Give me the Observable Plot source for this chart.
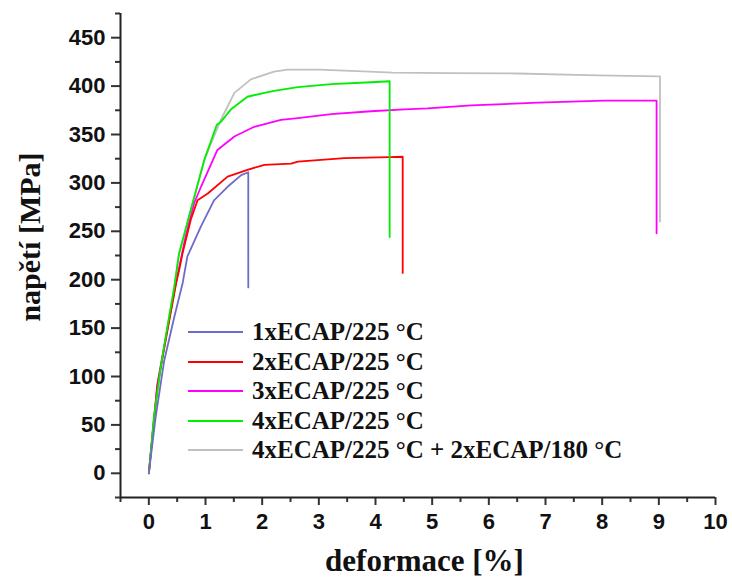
<!DOCTYPE html>
<html>
<head>
<meta charset="utf-8">
<script src="https://cdn.jsdelivr.net/npm/d3@7"></script>
<script src="https://cdn.jsdelivr.net/npm/@observablehq/plot@0.6"></script>
<style>
  html, body { margin: 0; padding: 0; background: #fff; }
  #wrap { position: relative; width: 732px; height: 579px; }
  #legend { position: absolute; left: 0; top: 0; }
  .row { position: absolute; left: 188px; height: 30px; display: flex; align-items: center; white-space: nowrap; }
  .sw { width: 55px; height: 2px; margin-right: 9px; }
  .lab { font-family: "Liberation Serif", "Times New Roman", serif; font-weight: bold; font-size: 25px; line-height: 30px; color: #111; }
</style>
</head>
<body>
<div id="wrap"><div id="legend"></div></div>
<script>
// Series names and colours
const seriesNames = ["1xECAP/225 °C", "2xECAP/225 °C", "3xECAP/225 °C", "4xECAP/225 °C", "4xECAP/225 °C + 2xECAP/180 °C"];
const seriesColors = ["#6c6cc8", "#ff0000", "#ff00ff", "#00ee00", "#c0c0c0"];

// 1xECAP/225 °C
const strain1 = [0, 0.12, 0.27, 0.447, 0.595, 0.68, 0.92, 1.15, 1.39, 1.63, 1.755, 1.755];
const stress1 = [0, 58, 116, 161, 196, 224, 255, 282, 296, 308, 311, 192];
// 2xECAP/225 °C
const strain2 = [0, 0.15, 0.33, 0.48, 0.535, 0.594, 0.74, 0.86, 1.04, 1.39, 1.74, 2.04, 2.51, 2.63, 3.45, 4.25, 4.48, 4.48];
const stress2 = [0, 90, 148, 196, 210, 227, 262, 282, 289, 306.5, 313.5, 318.7, 320, 322, 325.6, 326.6, 327, 207];
// 3xECAP/225 °C
const strain3 = [0, 0.15, 0.33, 0.5, 0.65, 0.8, 0.92, 1.21, 1.51, 1.86, 2.33, 2.63, 3.22, 3.92, 4.51, 4.92, 5.69, 6.87, 8.04, 8.96, 8.96];
const stress3 = [0, 92, 150, 203, 245, 279, 296, 334, 348, 358, 365, 367, 371, 374, 376, 377, 380, 383, 385, 385, 248];
// 4xECAP/225 °C
const strain4 = [0, 0.09, 0.21, 0.33, 0.45, 0.53, 0.74, 0.98, 1.2, 1.27, 1.45, 1.74, 2.04, 2.21, 2.63, 3.22, 3.92, 4.25, 4.25];
const stress4 = [0, 58, 110, 152, 193, 226, 272, 324, 360, 363, 376, 389, 393, 395, 399, 402, 404, 405, 244];
// 4xECAP/225 °C + 2xECAP/180 °C
const strain5 = [0, 0.09, 0.21, 0.33, 0.45, 0.53, 0.74, 0.98, 1.27, 1.51, 1.80, 2.21, 2.45, 3.0, 3.89, 4.3, 5.28, 6.5, 7.93, 9.0, 9.02, 9.02];
const stress5 = [0, 58, 108, 152, 192, 226, 272, 324, 365, 393, 407, 415, 417, 417, 415, 414, 413.5, 413, 411, 410, 410, 260];

// Axis ticks
const xTicks = [0, 1, 2, 3, 4, 5, 6, 7, 8, 9, 10];
const xMinorTicks = [-0.5, 0.5, 1.5, 2.5, 3.5, 4.5, 5.5, 6.5, 7.5, 8.5, 9.5];
const yTicks = [0, 50, 100, 150, 200, 250, 300, 350, 400, 450];
const yMinorTicks = [-25, 25, 75, 125, 175, 225, 275, 325, 375, 425, 475];

const xLabel = "deformace [%]";
const yLabel = "napětí [MPa]";

const strains = [strain1, strain2, strain3, strain4, strain5];
const stresses = [stress1, stress2, stress3, stress4, stress5];
const rows = [];
strains.forEach((xs, i) => xs.forEach((x, j) => rows.push({series: seriesNames[i], strain: x, stress: stresses[i][j]})));

const drawOrder = [4, 2, 1, 3, 0];

const chart = Plot.plot({
  width: 732,
  height: 579,
  marginLeft: 120,
  marginRight: 17,
  marginTop: 13,
  marginBottom: 82,
  style: {fontFamily: "Liberation Sans, Arial, sans-serif", fontSize: "22px", fontWeight: "bold", color: "#111", background: "#fff"},
  x: {domain: [-0.5, 10]},
  y: {domain: [-25, 475]},
  marks: [
    Plot.axisY({ticks: yTicks, tickSize: 9, tickPadding: 6, label: null, strokeWidth: 2, stroke: "#333"}),
    Plot.axisY({ticks: yMinorTicks, tickSize: 5, text: null, label: null, strokeWidth: 2, stroke: "#333"}),
    Plot.axisX({ticks: xTicks, tickSize: 8, tickPadding: 8, label: null, strokeWidth: 2, stroke: "#333"}),
    Plot.axisX({ticks: xMinorTicks, tickSize: 5, text: null, label: null, strokeWidth: 2, stroke: "#333"}),
    Plot.ruleX([-0.5], {stroke: "#222", strokeWidth: 2}),
    Plot.ruleY([-25], {stroke: "#222", strokeWidth: 2}),
    ...drawOrder.map(i => Plot.line(rows.filter(d => d.series === seriesNames[i]), {
      x: "strain", y: "stress", stroke: seriesColors[i], strokeWidth: 1.8, curve: "linear"
    })),
    Plot.text([yLabel], {text: d => d, frameAnchor: "left", textAnchor: "middle", lineAnchor: "middle", dx: -90, dy: -18.5, rotate: -90,
      fontFamily: "Liberation Serif, Times New Roman, serif", fontSize: 30, fontWeight: "bold", fill: "#111"}),
    Plot.text([xLabel], {text: d => d, frameAnchor: "bottom", textAnchor: "middle", lineAnchor: "middle", dx: 6.5, dy: 64,
      fontFamily: "Liberation Serif, Times New Roman, serif", fontSize: 31, fontWeight: "bold", fill: "#111"})
  ]
});

const wrap = document.getElementById("wrap");
wrap.insertBefore(chart, wrap.firstChild);

const legend = document.getElementById("legend");
seriesNames.forEach((name, i) => {
  const row = document.createElement("div");
  row.className = "row";
  row.style.top = (317 + i * 29.5) + "px";
  const sw = document.createElement("span");
  sw.className = "sw";
  sw.style.background = seriesColors[i];
  const lab = document.createElement("span");
  lab.className = "lab";
  lab.textContent = name;
  row.appendChild(sw);
  row.appendChild(lab);
  legend.appendChild(row);
});
</script>
</body>
</html>
